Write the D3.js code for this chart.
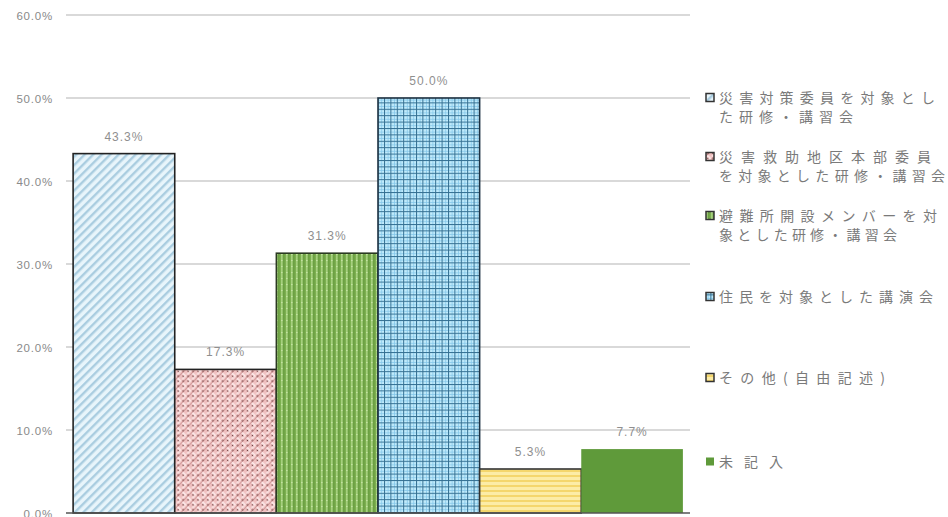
<!DOCTYPE html>
<html><head><meta charset="utf-8">
<script src="https://cdn.jsdelivr.net/npm/d3@7"></script>
<style>
html,body{margin:0;padding:0;background:#fff;}
svg{display:block;}
</style>
</head><body>
<svg id="chart" width="948" height="517"></svg>
<script>
const categories = [
  "災害対策委員を対象とした研修・講習会",
  "災害救助地区本部委員を対象とした研修・講習会",
  "避難所開設メンバーを対象とした研修・講習会",
  "住民を対象とした講演会",
  "その他(自由記述)",
  "未記入"
];
const values = [43.3, 17.3, 31.3, 50.0, 5.3, 7.7];
const yTicks = [0, 10, 20, 30, 40, 50, 60];
const legendLines = [
  ["災害対策委員を対象とし", "た研修・講習会"],
  ["災害救助地区本部委員", "を対象とした研修・講習会"],
  ["避難所開設メンバーを対", "象とした研修・講習会"],
  ["住民を対象とした講演会"],
  ["その他(自由記述)"],
  ["未記入"]
];

const svg = d3.select("#chart");
const defs = svg.append("defs");

// pattern 1: light blue diagonal stripes
let p = defs.append("pattern").attr("id","p0").attr("patternUnits","userSpaceOnUse")
  .attr("width",6).attr("height",6).attr("patternTransform","rotate(45)");
p.append("rect").attr("width",6).attr("height",6).attr("fill","#e8f5fb");
p.append("rect").attr("width",2.4).attr("height",6).attr("fill","#aacde0");

// pattern 2: pink weave
p = defs.append("pattern").attr("id","p1").attr("patternUnits","userSpaceOnUse")
  .attr("width",7).attr("height",7).attr("patternTransform","rotate(45)");
p.append("rect").attr("width",7).attr("height",7).attr("fill","#f0c0c0");
p.append("rect").attr("x",0.8).attr("y",0.8).attr("width",5).attr("height",2).attr("fill","#fde9e9");
p.append("rect").attr("x",4.2).attr("y",3.2).attr("width",2).attr("height",3.2).attr("fill","#fbe2e2");
p.append("rect").attr("x",0).attr("y",0).attr("width",0.8).attr("height",7).attr("fill","#c99090");
[[0,0],[7,0],[0,7],[7,7],[3.5,3.5]].forEach(c=>
  p.append("circle").attr("cx",c[0]).attr("cy",c[1]).attr("r",0.8).attr("fill","#6b3a3a"));

// pattern 3: green vertical stripes
p = defs.append("pattern").attr("id","p2").attr("patternUnits","userSpaceOnUse")
  .attr("width",5).attr("height",6);
p.append("rect").attr("width",5).attr("height",6).attr("fill","#7cb050");
p.append("rect").attr("x",1).attr("width",1.6).attr("height",6).attr("fill","#a6d07e");
p.append("rect").attr("x",3.4).attr("width",1).attr("height",6).attr("fill","#62953a");
p.append("rect").attr("x",1).attr("y",2).attr("width",1.6).attr("height",1).attr("fill","#c2e2a0");

// pattern 4: blue grid
p = defs.append("pattern").attr("id","p3").attr("patternUnits","userSpaceOnUse")
  .attr("width",6.4).attr("height",6.4);
p.append("rect").attr("width",6.4).attr("height",6.4).attr("fill","#c2ecfc");
p.append("rect").attr("x",0).attr("y",0).attr("width",1).attr("height",6.4).attr("fill","#336f92");
p.append("rect").attr("x",0).attr("y",0).attr("width",6.4).attr("height",1).attr("fill","#336f92");
p.append("rect").attr("x",3.6).attr("y",1).attr("width",0.8).attr("height",5.4).attr("fill","#86c8ea");
p.append("rect").attr("x",1).attr("y",3.6).attr("width",5.4).attr("height",0.8).attr("fill","#86c8ea");

// pattern 5: yellow horizontal stripes
p = defs.append("pattern").attr("id","p4").attr("patternUnits","userSpaceOnUse")
  .attr("width",6).attr("height",5);
p.append("rect").attr("width",6).attr("height",5).attr("fill","#fcecA6");
p.append("rect").attr("y",0).attr("width",6).attr("height",2).attr("fill","#f4d66c");

const fills = ["url(#p0)","url(#p1)","url(#p2)","url(#p3)","url(#p4)","#5f9a3a"];
const strokes = ["#222","#222","#2b3a22","#1e3344","#333","none"];

const x = d3.scaleBand().domain(categories).range([66, 690]).paddingInner(0).paddingOuter(0.07);
const y = d3.scaleLinear().domain([0, 60]).range([513, 15]);

// grid lines
svg.append("g").selectAll("line").data(yTicks.filter(d=>d>0)).join("line")
  .attr("x1",66).attr("x2",690)
  .attr("y1",d=>y(d)).attr("y2",d=>y(d))
  .attr("stroke","#cdcdcd").attr("stroke-width",1.5);

// y axis labels
const yAxis = d3.axisLeft(y).tickValues(yTicks).tickFormat(d=>d3.format(".1f")(d)+"%").tickSize(0).tickPadding(0);
const gy = svg.append("g").attr("transform","translate(53,0)").call(yAxis);
gy.select(".domain").remove();
gy.selectAll("text").attr("fill","#8a8a8a").attr("font-family","Liberation Sans, Arial, sans-serif")
  .attr("font-size","11.5px").attr("letter-spacing","0.8px").attr("dy","0.35em");

// bars
svg.append("g").selectAll("rect").data(values).join("rect")
  .attr("x",(d,i)=>x(categories[i]))
  .attr("y",d=>y(d))
  .attr("width",x.bandwidth())
  .attr("height",d=>y(0)-y(d))
  .attr("fill",(d,i)=>fills[i])
  .attr("stroke",(d,i)=>strokes[i])
  .attr("stroke-width",1.6);

// baseline
svg.append("line").attr("x1",66).attr("x2",690).attr("y1",y(0)).attr("y2",y(0))
  .attr("stroke","#555").attr("stroke-width",1.5);

// value labels
svg.append("g").selectAll("text").data(values).join("text")
  .attr("x",(d,i)=>x(categories[i])+x.bandwidth()/2)
  .attr("y",d=>y(d)-13)
  .attr("text-anchor","middle")
  .attr("fill","#8f8f8f")
  .attr("font-family","Liberation Sans, Arial, sans-serif")
  .attr("font-size","12px")
  .attr("letter-spacing","1px")
  .text(d=>d3.format(".1f")(d)+"%");

// legend
const legendY = [98, 157, 216, 297, 378, 462];
const lineWidths = [[216,134],[212,226],[218,178],[214],[166],[64]];
const lg = svg.append("g");
legendLines.forEach((lines,i)=>{
  const g = lg.append("g");
  g.append("rect").attr("x",706).attr("y",legendY[i]-4.5).attr("width",8).attr("height",8)
    .attr("fill",fills[i]).attr("stroke",i===5?"none":"#333").attr("stroke-width",1.5);
  lines.forEach((t,j)=>{
    g.append("text").attr("x",719).attr("y",legendY[i]+j*19+5)
      .attr("font-family","Noto Sans CJK JP, sans-serif").attr("font-size","14px")
      .attr("fill","#7a7a7a")
      .attr("textLength",lineWidths[i][j]).attr("lengthAdjust","spacing")
      .text(t);
  });
});
</script>
</body></html>
